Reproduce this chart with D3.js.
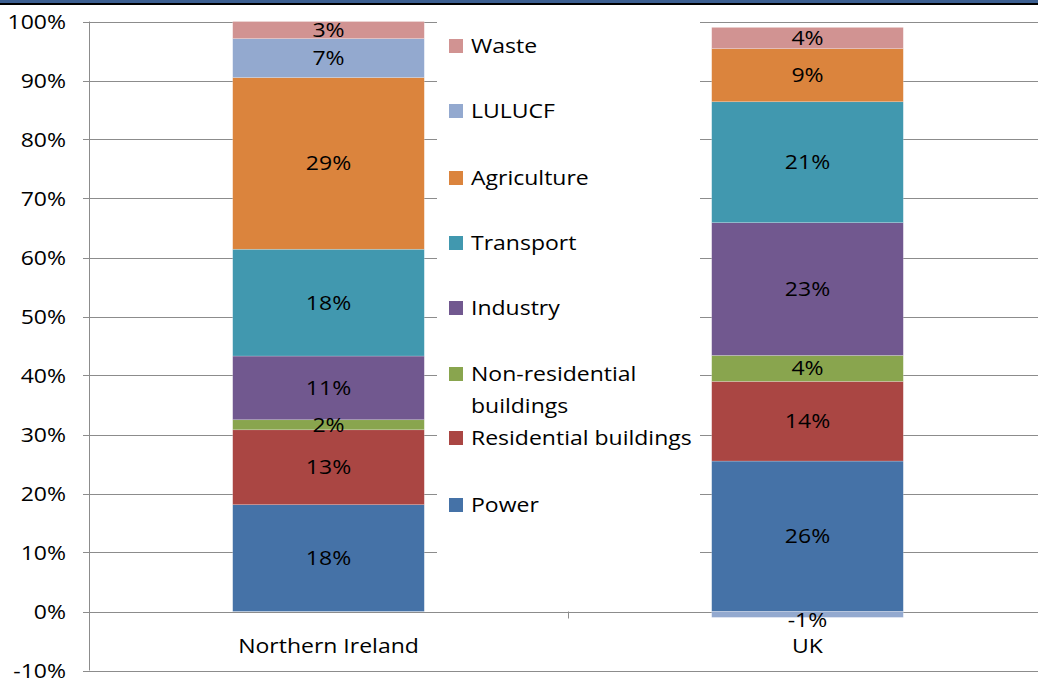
<!DOCTYPE html>
<html><head><meta charset="utf-8">
<script src="https://cdn.jsdelivr.net/npm/d3@7"></script>
<style>html,body{margin:0;padding:0;background:#fff;overflow:hidden}svg{display:block}</style>
</head><body>
<script>
const categories = ["Northern Ireland", "UK"];
const sectors = ["Power", "Residential buildings", "Non-residential buildings", "Industry", "Transport", "Agriculture", "LULUCF", "Waste"];
const niValues = [18.1, 12.7, 1.7, 10.8, 18.1, 29.1, 6.6, 2.9];
const ukValues = [25.5, 13.5, 4.4, 22.5, 20.5, 9.0, -1.0, 3.6];
const colors = ["#4572A7", "#AA4643", "#89A54E", "#71588F", "#4198AF", "#DB843D", "#93A9CF", "#D19392"];
const yTicks = [-10, 0, 10, 20, 30, 40, 50, 60, 70, 80, 90, 100];
const legendOrder = ["Waste", "LULUCF", "Agriculture", "Transport", "Industry", "Non-residential buildings", "Residential buildings", "Power"];

const W = 1038, H = 680;
const font = "'Open Sans', 'Noto Sans', sans-serif";
const FS = 20, SX = 1.15;
const svg = d3.select("body").append("svg").attr("width", W).attr("height", H);

function txt(g, x, y, s, anchor) {
  return g.append("text").attr("transform", `translate(${x},${y}) scale(${SX},1)`)
    .attr("dy", "0.35em").attr("text-anchor", anchor)
    .attr("font-family", font).attr("font-size", FS).attr("fill", "#000").text(s);
}

// top border
svg.append("rect").attr("x",0).attr("y",0).attr("width",W).attr("height",3).attr("fill","#3C5F91");
svg.append("rect").attr("x",0).attr("y",3).attr("width",W).attr("height",2).attr("fill","#000");

const x = d3.scaleBand().domain(categories).range([89, 1047]).paddingInner(0.6).paddingOuter(0.3);
const y = d3.scaleLinear().domain([-10, 100]).range([670.5, 21.5]);

// gridlines
svg.append("g").selectAll("line").data(yTicks).join("line")
  .attr("x1", 83).attr("x2", W).attr("y1", d => Math.round(y(d)) + 0.5).attr("y2", d => Math.round(y(d)) + 0.5)
  .attr("stroke", "#8C8C8C").attr("stroke-width", 1);
// y axis line
svg.append("line").attr("x1", 89.5).attr("x2", 89.5).attr("y1", y(100)).attr("y2", y(-10)).attr("stroke", "#8C8C8C");
// category ticks
const bounds = [89, 89 + x.step(), 89 + 2 * x.step()];
svg.append("g").selectAll("line").data(bounds).join("line")
  .attr("x1", d => Math.round(d) + 0.5).attr("x2", d => Math.round(d) + 0.5)
  .attr("y1", y(0)).attr("y2", y(0) + 7).attr("stroke", "#8C8C8C");

// y labels
const yl = svg.append("g");
yTicks.forEach(d => txt(yl, 66, y(d), d + "%", "end"));

// stacked bars
const seriesData = { "Northern Ireland": niValues, "UK": ukValues };
const barsG = svg.append("g");
const labelsG = svg.append("g");
categories.forEach(cat => {
  const vals = seriesData[cat];
  let pos = 0, neg = 0;
  vals.forEach((v, i) => {
    let y0, y1;
    if (v >= 0) { y0 = pos; y1 = pos + v; pos = y1; }
    else { y0 = neg + v; y1 = neg; neg = y0; }
    barsG.append("rect").attr("x", x(cat)).attr("width", x.bandwidth())
      .attr("y", y(y1)).attr("height", y(y0) - y(y1)).attr("fill", colors[i])
      .attr("stroke", "rgba(255,255,255,0.35)").attr("stroke-width", 0.6);
    const ly = v >= 0 ? (y(y0) + y(y1)) / 2 : y(y0) + 3;
    txt(labelsG, x(cat) + x.bandwidth() / 2, ly, Math.round(v) + "%", "middle");
  });
});

// x labels
const xl = svg.append("g");
categories.forEach(d => txt(xl, x(d) + x.bandwidth() / 2, 646, d, "middle"));

// legend
const lg = svg.append("g");
lg.append("rect").attr("x", 437).attr("y", 22).attr("width", 263).attr("height", 531).attr("fill", "#fff");
const legendY = [46, 111, 178, 243, 308, 374, 438, 505];
legendOrder.forEach((name, k) => {
  const i = sectors.indexOf(name);
  const cy = legendY[k];
  lg.append("rect").attr("x", 449).attr("y", cy - 7).attr("width", 14).attr("height", 14).attr("fill", colors[i]);
  if (name === "Non-residential buildings") {
    txt(lg, 471, cy, "Non-residential", "start");
    txt(lg, 471, cy + 32, "buildings", "start");
  } else txt(lg, 471, cy, name, "start");
});
</script>
</body></html>
